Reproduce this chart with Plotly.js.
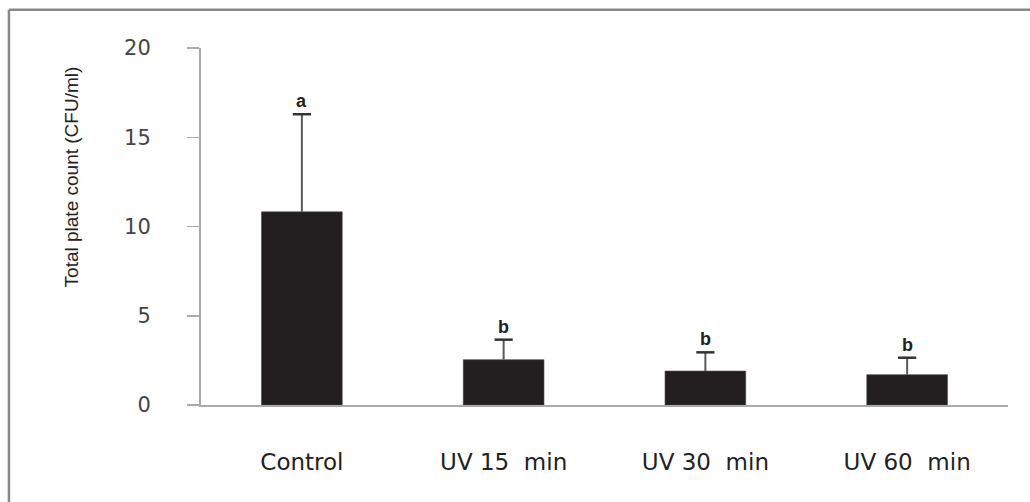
<!DOCTYPE html>
<html>
<head>
<meta charset="utf-8">
<script src="https://cdn.plot.ly/plotly-3.0.1.min.js"></script>
<style>
html,body{margin:0;padding:0;background:#fff;}
#chart{width:1030px;height:502px;}
</style>
</head>
<body>
<div id="chart"></div>
<script>
const categories = ["Control", "UV 15  min", "UV 30  min", "UV 60  min"];
const means = [10.82, 2.54, 1.90, 1.70];
const errorsUp = [5.47, 1.12, 1.05, 0.95];
const groupLetters = ["a", "b", "b", "b"];
const yTickVals = [0, 5, 10, 15, 20];
const yTickText = ["0", "5", "10", "15", "20"];
const yTitle = "Total plate count (CFU/ml)";

const barColor = "#231f20";
const errTops = means.map((m, i) => m + errorsUp[i]);

// Bars with the error stem only (no caps, so nothing shows on the bar top)
const barTrace = {
  type: "bar",
  x: categories,
  y: means,
  marker: {color: barColor, line: {color: "#444", width: 0.6}},
  error_y: {
    type: "data",
    symmetric: false,
    array: errorsUp,
    arrayminus: means.map(() => 0),
    color: "#5a5a5a",
    thickness: 2,
    width: 0
  },
  hoverinfo: "none"
};
// Upper cap of each error bar
const capTrace = {
  type: "scatter",
  mode: "markers",
  x: categories,
  y: errTops,
  marker: {symbol: "line-ew-open", size: 13, color: "#333", line: {color: "#333", width: 2.5}},
  hoverinfo: "none"
};

const annotations = categories.map((c, i) => ({
  x: c, y: errTops[i], xref: "x", yref: "y",
  text: "<b>" + groupLetters[i] + "</b>",
  showarrow: false, yanchor: "bottom", yshift: 1,
  font: {family: "Liberation Sans, Arial, sans-serif", size: 18, color: "#222"}
}));
annotations.push({
  xref: "paper", yref: "paper", x: -0.16, y: 0.64,
  text: yTitle, textangle: -90, showarrow: false,
  xanchor: "center", yanchor: "middle",
  font: {family: "Liberation Sans, Arial, sans-serif", size: 19, color: "#222"}
});

const layout = {
  width: 1030, height: 502,
  margin: {l: 201, r: 22, t: 48, b: 97},
  paper_bgcolor: "#fff", plot_bgcolor: "#fff",
  bargap: 0.6,
  showlegend: false,
  xaxis: {
    type: "category",
    showline: true, linecolor: "#aaa", linewidth: 2,
    ticks: "", showgrid: false, zeroline: false,
    ticklabelstandoff: 35,
    tickfont: {family: "DejaVu Sans, sans-serif", size: 23, color: "#222"}
  },
  yaxis: {
    range: [0, 20],
    tickvals: yTickVals, ticktext: yTickText,
    showline: true, linecolor: "#aaa", linewidth: 2,
    ticks: "outside", ticklen: 12, tickwidth: 1.5, tickcolor: "#aaa",
    ticklabelstandoff: 32,
    showgrid: false, zeroline: false,
    tickfont: {family: "DejaVu Sans, sans-serif", size: 21, color: "#444"}
  },
  annotations: annotations,
  shapes: [
    {type: "line", xref: "paper", yref: "paper", x0: -0.238, x1: -0.238, y0: -0.3, y1: 1.107,
     line: {color: "#888", width: 2.5}},
    {type: "line", xref: "paper", yref: "paper", x0: -0.238, x1: 1.03, y0: 1.107, y1: 1.107,
     line: {color: "#888", width: 2.5}}
  ]
};

Plotly.newPlot("chart", [barTrace, capTrace], layout, {staticPlot: true, displayModeBar: false});
</script>
</body>
</html>
